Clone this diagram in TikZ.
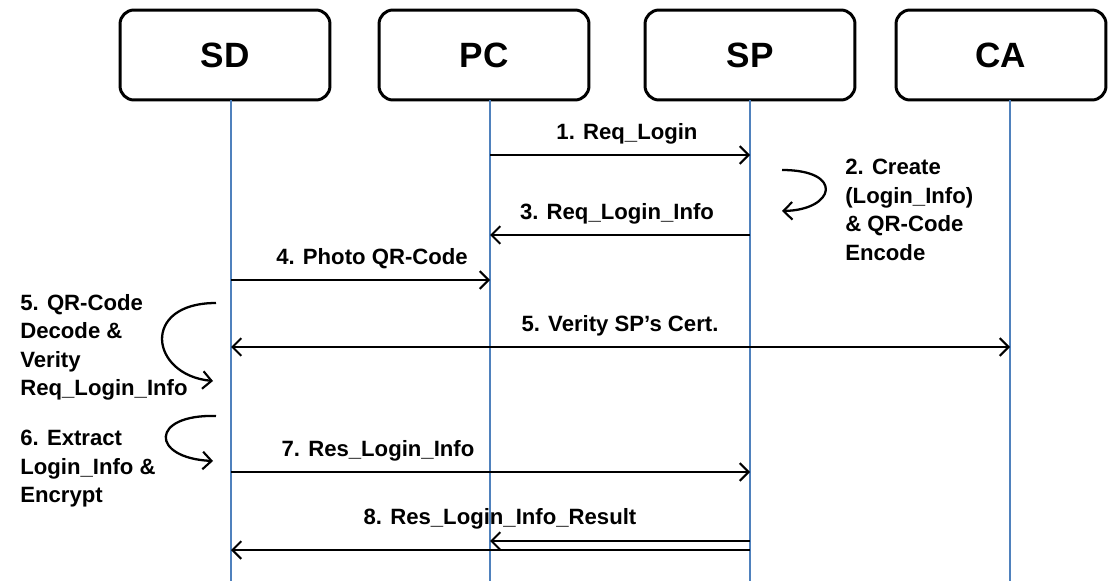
\documentclass[tikz,border=0pt]{standalone}
\usepackage{fontspec}
\setmainfont{Liberation Sans}
\usetikzlibrary{arrows.meta}
\definecolor{life}{RGB}{79,129,189}
\begin{document}
\begin{tikzpicture}[x=0.02cm,y=-0.02cm,
  actor/.style={draw=black,line width=1.7pt,rounded corners=8pt,minimum width=4.2cm,minimum height=1.8cm,font=\fontsize{20}{24}\selectfont\bfseries},
  lifeline/.style={draw=life,line width=1.4pt},
  msg/.style={draw=black,line width=1.3pt,-{Straight Barb[length=5pt,width=10pt,line width=1.2pt]}},
  lbl/.style={font=\fontsize{12.6}{16.2}\selectfont\bfseries,inner sep=1pt},
  note/.style={font=\fontsize{12.6}{16.2}\selectfont\bfseries,align=left,inner sep=0pt,anchor=north west},
  loop/.style={draw=black,line width=1.3pt,-{Straight Barb[length=5pt,width=10pt,line width=1.2pt]}}]
\useasboundingbox (0,0) rectangle (1110,581);
% actors
\node[actor] (SD) at (225,55) {SD};
\node[actor] (PC) at (484,55) {PC};
\node[actor] (SP) at (750,55) {SP};
\node[actor] (CA) at (1001,55) {CA};
% lifelines
\coordinate (sdE) at (231,581);
\coordinate (pcE) at (490,581);
\coordinate (spE) at (750,581);
\coordinate (caE) at (1010,581);
\draw[lifeline] (231,100) -- (sdE);
\draw[lifeline] (490,100) -- (pcE);
\draw[lifeline] (750,100) -- (spE);
\draw[lifeline] (1010,100) -- (caE);
% messages
\coordinate (m1a) at (490,155); \coordinate (m1b) at (750,155);
\draw[msg] (m1a) -- (m1b);
\node[lbl] (l1) at (627,134) {1. Req\_Login};
\coordinate (m3a) at (750,235); \coordinate (m3b) at (490,235);
\draw[msg] (m3a) -- (m3b);
\node[lbl] (l3) at (617,214) {3. Req\_Login\_Info};
\coordinate (m4a) at (231,280); \coordinate (m4b) at (490,280);
\draw[msg] (m4a) -- (m4b);
\node[lbl] (l4) at (372,259) {4. Photo QR-Code};
\coordinate (m5a) at (231,347); \coordinate (m5b) at (1010,347);
\draw[msg,{Straight Barb[length=5pt,width=10pt,line width=1.2pt]}-{Straight Barb[length=5pt,width=10pt,line width=1.2pt]}] (m5a) -- (m5b);
\node[lbl] (l5) at (620,326) {5. Verity SP's Cert.};
\coordinate (m7a) at (231,472); \coordinate (m7b) at (750,472);
\draw[msg] (m7a) -- (m7b);
\node[lbl] (l7) at (378,451) {7. Res\_Login\_Info};
\coordinate (m8a) at (750,541); \coordinate (m8b) at (490,541);
\draw[msg] (m8a) -- (m8b);
\coordinate (m8c) at (750,550); \coordinate (m8d) at (231,550);
\draw[msg] (m8c) -- (m8d);
\node[lbl] (l8) at (500,519) {8. Res\_Login\_Info\_Result};
% self loops
\coordinate (s2a) at (782,170); \coordinate (s2b) at (782,211);
\draw[loop] (s2a) .. controls (845,170) and (835,210) .. (s2b);
\node[note] (n2) at (845,159) {2. Create\\(Login\_Info)\\\& QR-Code\\Encode};
\coordinate (s5a) at (216,303); \coordinate (s5b) at (213,381);
\draw[loop] (s5a) .. controls (140,303) and (150,375) .. (s5b);
\node[note] (n5) at (20,294) {5. QR-Code\\Decode \&\\Verity\\Req\_Login\_Info};
\coordinate (s6a) at (216,416); \coordinate (s6b) at (213,461);
\draw[loop] (s6a) .. controls (150,414) and (150,458) .. (s6b);
\node[note] (n6) at (20,430) {6. Extract\\Login\_Info \&\\Encrypt};
\end{tikzpicture}
\end{document}
